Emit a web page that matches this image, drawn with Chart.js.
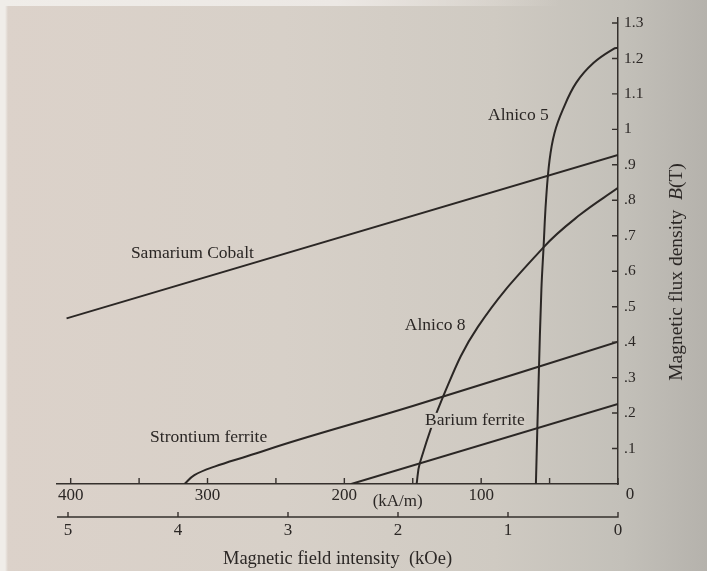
<!DOCTYPE html>
<html>
<head>
<meta charset="utf-8">
<title>Demagnetization curves</title>
<script src="https://cdn.jsdelivr.net/npm/chart.js@4.4.1/dist/chart.umd.min.js"></script>
<style>
  html, body { margin: 0; padding: 0; }
  body { width: 707px; height: 571px; overflow: hidden; }
  #wrap {
    position: relative;
    width: 707px;
    height: 571px;
    background:
      linear-gradient(to right, #f0ede9 0, #f0ede9 5px, rgba(240,237,233,0) 8px),
      linear-gradient(to right, #dcd2ca 0%, #d7d0c8 40%, #cfcac2 70%, #c3c0b9 88%, #b5b2ac 100%);
  }
  #edge {
    position: absolute; left: 0; top: 0; width: 560px; height: 6px;
    background: linear-gradient(to right, #f0ede9 0%, #ece8e4 60%, rgba(236,232,228,0) 100%);
  }
  canvas { position: absolute; left: 0; top: 0; }
</style>
</head>
<body>
<div id="wrap"><div id="edge"></div><canvas id="chart" width="707" height="571"></canvas></div>
<script>
// H in kA/m (axis runs right to left), B in tesla
const samariumH = [403, 0];
const samariumB = [0.467, 0.928];

const alnico5H = [0, 3.2, 18, 30.6, 40.4, 46.4, 50, 52.6, 54.4, 56, 58, 60];
const alnico5B = [1.23, 1.227, 1.187, 1.131, 1.055, 0.99, 0.914, 0.8, 0.668, 0.547, 0.293, 0];

const alnico8H = [0, 27.8, 54.8, 102.4, 128, 144.8, 147.2];
const alnico8B = [0.835, 0.759, 0.666, 0.443, 0.245, 0.059, 0];

const strontiumH = [0, 150, 234, 270.6, 294.9, 309.6, 316.8];
const strontiumB = [0.401, 0.22, 0.124, 0.079, 0.049, 0.025, 0];

const bariumH = [195, 0];
const bariumB = [0, 0.226];

const kOeTicks = [0, 1, 2, 3, 4, 5];

const FONT = "'Liberation Serif', 'Times New Roman', serif";
const INK = '#2b2725';
const AXIS = '#35302d';

function pts(hs, bs) {
  return hs.map((h, i) => ({ x: h, y: bs[i] }));
}

function curve(label, hs, bs, tension) {
  return {
    label,
    data: pts(hs, bs),
    borderColor: INK,
    borderWidth: 2,
    pointRadius: 0,
    fill: false,
    tension
  };
}

// curve names, anchored (left / middle) at a point in data space
const curveNames = [
  { text: 'Samarium Cobalt', h: 356, b: 0.649 },
  { text: 'Alnico 5', h: 95, b: 1.04 },
  { text: 'Alnico 8', h: 155.8, b: 0.446 },
  { text: 'Strontium ferrite', h: 342, b: 0.13 },
  { text: 'Barium ferrite', h: 141, b: 0.178, knockout: true }
];

const tickMarks = {
  id: 'tickMarks',
  afterDraw(chart) {
    const { ctx, scales: { x, x2, y } } = chart;
    ctx.save();
    ctx.strokeStyle = AXIS;
    ctx.lineWidth = 1.4;
    ctx.beginPath();
    x.ticks.forEach(t => {
      const px = x.getPixelForValue(t.value);
      ctx.moveTo(px, x.top);
      ctx.lineTo(px, x.top - 6);
    });
    y.ticks.forEach(t => {
      if (t.value === 0) return;
      const py = y.getPixelForValue(t.value);
      ctx.moveTo(y.left, py);
      ctx.lineTo(y.left - 6, py);
    });
    // kOe axis line, ends at its 0
    const x0 = x2.getPixelForValue(0);
    ctx.moveTo(x2.getPixelForValue(x2.max), x2.top);
    ctx.lineTo(x0 + 0.7, x2.top);
    kOeTicks.forEach(v => {
      const px = x2.getPixelForValue(v);
      ctx.moveTo(px, x2.top);
      ctx.lineTo(px, x2.top - 5);
    });
    ctx.stroke();
    ctx.restore();
  }
};

const textLabels = {
  id: 'textLabels',
  afterDatasetsDraw(chart) {
    const { ctx, scales: { x, y } } = chart;
    ctx.save();
    ctx.font = '17.5px ' + FONT;
    ctx.textBaseline = 'middle';
    ctx.textAlign = 'left';
    curveNames.forEach(n => {
      const px = x.getPixelForValue(n.h);
      const py = y.getPixelForValue(n.b);
      if (n.knockout) {
        const w = ctx.measureText(n.text).width;
        ctx.fillStyle = '#d0cbc3';
        ctx.fillRect(px - 1, py - 8, w + 2, 15);
      }
      ctx.fillStyle = INK;
      ctx.fillText(n.text, px, py);
    });

    ctx.font = '17px ' + FONT;
    ctx.textAlign = 'center';
    ctx.fillText('(kA/m)', x.getPixelForValue(161), x.top + 18);
    ctx.fillText('0', y.left + 12, x.top + 11);

    // vertical title, reads bottom to top, with italic B
    const parts = [
      { t: 'Magnetic flux density  ', f: '19.5px ' + FONT },
      { t: 'B', f: 'italic 19.5px ' + FONT },
      { t: '(T)', f: '19.5px ' + FONT }
    ];
    let total = 0;
    parts.forEach(p => { ctx.font = p.f; p.w = ctx.measureText(p.t).width; total += p.w; });
    ctx.translate(677, 272);
    ctx.rotate(-Math.PI / 2);
    ctx.textAlign = 'left';
    let cx = -total / 2;
    parts.forEach(p => {
      ctx.font = p.f;
      ctx.fillText(p.t, cx, 0);
      cx += p.w;
    });
    ctx.restore();
  }
};

new Chart(document.getElementById('chart').getContext('2d'), {
  type: 'line',
  data: {
    datasets: [
      curve('Samarium Cobalt', samariumH, samariumB, 0),
      curve('Alnico 5', alnico5H, alnico5B, 0.4),
      curve('Alnico 8', alnico8H, alnico8B, 0.4),
      curve('Strontium ferrite', strontiumH, strontiumB, 0.4),
      curve('Barium ferrite', bariumH, bariumB, 0)
    ]
  },
  options: {
    responsive: false,
    animation: false,
    layout: { padding: { left: 57, top: 18, right: 0, bottom: 0 } },
    plugins: { legend: { display: false }, tooltip: { enabled: false } },
    scales: {
      x: {
        type: 'linear',
        position: 'bottom',
        reverse: true,
        min: 0,
        max: 410,
        afterFit: s => { s.height = 33; },
        grid: { drawOnChartArea: false, drawTicks: false },
        border: { color: AXIS, width: 1.5 },
        ticks: {
          stepSize: 50,
          autoSkip: false,
          maxRotation: 0,
          includeBounds: false,
          padding: 1,
          color: INK,
          font: { family: FONT, size: 17 },
          callback: v => (v % 100 === 0 && v !== 0) ? String(v) : ''
        }
      },
      x2: {
        type: 'linear',
        position: 'bottom',
        reverse: true,
        min: 0,
        max: 5.1,
        afterFit: s => { s.height = 54; },
        grid: { drawOnChartArea: false, drawTicks: false },
        border: { display: false },
        ticks: {
          stepSize: 1,
          autoSkip: false,
          maxRotation: 0,
          includeBounds: false,
          padding: 3,
          color: INK,
          font: { family: FONT, size: 17 },
          callback: v => String(v)
        },
        title: {
          display: true,
          text: 'Magnetic field intensity  (kOe)',
          color: INK,
          font: { family: FONT, size: 18.5 },
          padding: { top: 0, bottom: 1 }
        }
      },
      y: {
        type: 'linear',
        position: 'right',
        min: 0,
        max: 1.314,
        afterFit: s => { s.width = 707 - 618; },
        grid: { drawOnChartArea: false, drawTicks: false },
        border: { color: AXIS, width: 1.5 },
        ticks: {
          stepSize: 0.1,
          includeBounds: false,
          padding: 6,
          color: INK,
          font: { family: FONT, size: 15.5 },
          callback: v => {
            const r = Math.round(v * 10);
            if (r === 0) return '';
            if (r < 10) return '.' + r;
            if (r === 10) return '1';
            return (r / 10).toFixed(1);
          }
        }
      }
    }
  },
  plugins: [tickMarks, textLabels]
});
</script>
</body>
</html>
